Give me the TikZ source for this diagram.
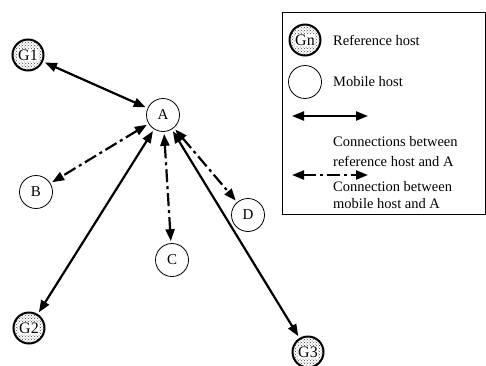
\documentclass[tikz,border=0pt]{standalone}
\usepackage{fontspec}
\setmainfont{Liberation Serif}
\usetikzlibrary{arrows.meta,patterns}
\begin{document}
\begin{tikzpicture}[x=1pt,y=-1pt,
  mob/.style={circle,draw,line width=0.8pt,minimum size=33pt,inner sep=0pt,fill=white,font=\fontsize{15}{16}\selectfont},
  refh/.style={circle,draw,line width=2pt,minimum size=31pt,inner sep=0pt,pattern=crosshatch dots,pattern color=black!75},
  glab/.style={fill=white,inner sep=0.3pt,font=\fontsize{16}{17}\selectfont},
  conn/.style={line width=2.2pt,{Triangle[length=12pt,width=9pt]}-{Triangle[length=12pt,width=9pt]},shorten <=2pt,shorten >=2pt},
  mconn/.style={conn,dash pattern=on 13pt off 4pt on 3pt off 4pt},
  txt/.style={anchor=west,font=\fontsize{14.5}{18}\selectfont,inner sep=0pt}]
\useasboundingbox (0,0) rectangle (486,365);
% legend box
\node[draw,line width=0.8pt,minimum width=203pt,minimum height=202pt,anchor=north west,inner sep=0pt] (legend) at (282,12) {};
% hosts
\node[mob] (A) at (163,115) {A};
\node[mob] (B) at (36,192) {B};
\node[mob] (C) at (172,260) {C};
\node[mob] (D) at (248,215) {D};
\node[refh,label={[glab]center:G1}] (G1) at (28,55) {};
\node[refh,label={[glab]center:G2}] (G2) at (29,328) {};
\node[refh,label={[glab]center:G3}] (G3) at (308,352) {};
% connections
\draw[conn] (G1) -- (A);
\draw[conn] (A) -- (G2);
\draw[conn] (A) -- (G3);
\draw[mconn] (A) -- (B);
\draw[mconn] (A) -- (C);
\draw[mconn] (A) -- (D);
% legend content
\node[refh,label={[glab]center:Gn}] (Gn) at (305,40) {};
\node[mob] (Mh) at (305,82) {};
\node[txt] (t1) at (333,40) {Reference host};
\node[txt] (t2) at (333,82) {Mobile host};
\coordinate (l1a) at (292,116);
\coordinate (l1b) at (368,116);
\draw[conn,shorten <=0pt,shorten >=0pt] (l1a) -- (l1b);
\node[txt] (t3) at (333,142) {Connections between};
\node[txt] (t4) at (333,161) {reference host and A};
\coordinate (l2a) at (292,175);
\coordinate (l2b) at (368,175);
\draw[mconn,shorten <=0pt,shorten >=0pt] (l2a) -- (l2b);
\node[txt] (t5) at (333,187) {Connection between};
\node[txt] (t6) at (333,204) {mobile host and A};
\end{tikzpicture}
\end{document}
